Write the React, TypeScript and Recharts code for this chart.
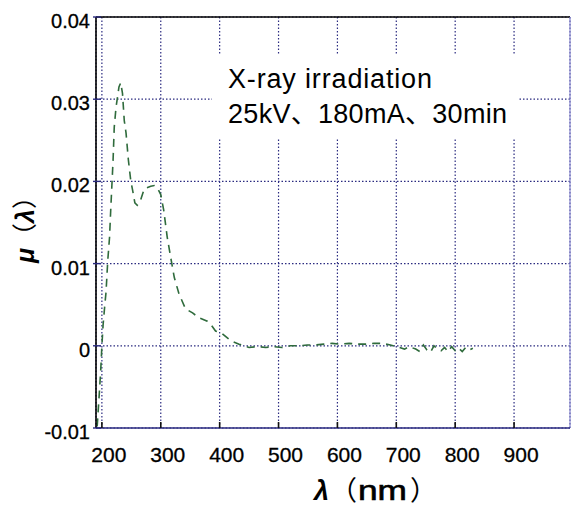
import React from 'react';
import {
  LineChart,
  Line,
  XAxis,
  YAxis,
  CartesianGrid,
  ReferenceArea,
  ReferenceLine,
  Customized,
} from 'recharts';

const wavelengths = [
  192, 195, 198, 200, 202, 205, 207, 210, 213, 215, 219, 221, 224, 229, 232, 235, 238, 241, 245, 249,
  252, 256, 260, 266, 272, 283, 289, 295, 300, 305, 311, 317, 323, 331, 342, 354, 365, 379, 385, 393,
  404, 419, 433, 450, 465, 478, 492, 506, 520, 535, 549, 563, 577, 591, 605, 620, 634, 648, 662, 676,
  690, 705, 714, 722, 733, 740, 746, 752, 758, 764, 770, 776, 782, 788, 794, 800, 806, 812, 818, 824, 830,
];
const muValues = [
  -0.0098, -0.0065, -0.003, 0.0, 0.0025, 0.005, 0.0065, 0.0104, 0.0132, 0.0165, 0.0226, 0.0266, 0.029, 0.0315, 0.032, 0.0307, 0.0274, 0.0259, 0.0226, 0.0201,
  0.019, 0.0174, 0.0171, 0.0178, 0.0191, 0.0194, 0.0195, 0.0191, 0.0184, 0.0165, 0.0132, 0.0107, 0.0083, 0.0063, 0.0045, 0.004, 0.0034, 0.003, 0.0026, 0.0018,
  0.0015, 0.0006, 0.0002, -0.0002, -0.0001, -0.0002, -0.0001, -0.0002, 0.0, 0.0, 0.0001, 0.0001, 0.0002, 0.0003, 0.0002, 0.0003, 0.0002, 0.0002, 0.0003, 0.0003,
  0.0001, -0.0002, -0.0004, -0.0001, -0.0004, -0.0007, 0.0001, -0.0005, -0.0008, 0.0, -0.0004, -0.0006, -0.0002, -0.0007, -0.0001, -0.0006, -0.0003, -0.0007, -0.0002, -0.0005, -0.0003,
];

const xTicks = [200, 300, 400, 500, 600, 700, 800, 900];
const yTicks = [-0.01, 0, 0.01, 0.02, 0.03, 0.04];
const yTickLabels = ['-0.01', '0', '0.01', '0.02', '0.03', '0.04'];
const annotationLines = ['X-ray irradiation', '25kV、180mA、30min'];
const xTitleSymbol = 'λ';
const xTitleUnit = 'nm';
const yTitleSymbol = 'μ';
const yTitleArg = 'λ';

const data = wavelengths.map((w, i) => ({ w, mu: muValues[i] }));

const FONT = '"Liberation Sans", Arial, "Noto Sans CJK JP", sans-serif';
const CJK = '"Noto Sans CJK JP", sans-serif';
const NAVY = '#2b2b80';

const XTick = (props: any) => {
  const { x, y, payload } = props;
  return (
    <g>
      <line x1={x} y1={y} x2={x} y2={y - 6} stroke="#111" strokeWidth={1.6} />
      <text x={x + 7} y={y + 34} textAnchor="middle" fontFamily={FONT} fontSize={21} fill="#000" stroke="#000" strokeWidth={0.3}>
        {String(payload.value)}
      </text>
    </g>
  );
};

const YTick = (props: any) => {
  const { x, y, payload } = props;
  const idx = yTicks.indexOf(payload.value);
  const label = idx >= 0 ? yTickLabels[idx] : String(payload.value);
  return (
    <g>
      <line x1={x - 3} y1={y} x2={x + 5} y2={y} stroke={NAVY} strokeWidth={1.4} />
      <text x={x - 6} y={y + 11} textAnchor="end" fontFamily={FONT} fontSize={20} fill="#000" stroke="#000" strokeWidth={0.3}>
        {label}
      </text>
    </g>
  );
};

const AnnotationBox = (props: any) => {
  const { x, y, width, height } = props;
  return (
    <g>
      <rect x={x} y={y} width={width} height={height} fill="#fff" />
      <text x={228} y={88} fontFamily={FONT} fontSize={27} fill="#000" textLength={204} lengthAdjust="spacing">
        {annotationLines[0]}
      </text>
      <text x={228} y={123} fontFamily={FONT} fontSize={27} fill="#000" textLength={279} lengthAdjust="spacing">
        {annotationLines[1]}
      </text>
    </g>
  );
};

const Titles = () => (
  <g>
    <text x={314} y={500} fontFamily={FONT} fontSize={27} fill="#000">
      <tspan x={314} fontStyle="italic" fontWeight="bold">{xTitleSymbol}</tspan>
    </text>
    <text x={330} y={500} fontFamily={CJK} fontSize={27} fill="#000">
      {'\uff08'}
    </text>
    <text x={358} y={500} fontFamily={FONT} fontSize={27} fill="#000" stroke="#000" strokeWidth={0.6} textLength={49} lengthAdjust="spacingAndGlyphs">
      {xTitleUnit}
    </text>
    <text x={410} y={500} fontFamily={CJK} fontSize={27} fill="#000">
      {'\uff09'}
    </text>
    <text x={34} y={263} fontFamily={FONT} fontSize={25} fill="#000" transform="rotate(-90, 34, 263)">
      <tspan fontStyle="italic" fontWeight="bold">{yTitleSymbol}</tspan>
      <tspan fontFamily={CJK}>{'\uff08'}</tspan>
      <tspan fontStyle="italic" fontWeight="bold">{yTitleArg}</tspan>
      <tspan fontFamily={CJK}>{'\uff09'}</tspan>
    </text>
  </g>
);

export default function App() {
  return (
    <div style={{ position: 'absolute', left: 0, top: 0, width: 571, height: 510, background: '#fff' }}>
      <LineChart width={571} height={510} data={data} margin={{ top: 17, right: 1, left: 0, bottom: 0 }}>
        <CartesianGrid stroke={NAVY} strokeDasharray="1.5 2" strokeWidth={1.2} />
        <XAxis
          dataKey="w"
          type="number"
          domain={[190, 995]}
          ticks={xTicks}
          allowDataOverflow
          height={82}
          tickSize={0}
          tickMargin={0}
          tickLine={false}
          axisLine={{ stroke: NAVY, strokeWidth: 1.6 }}
          tick={<XTick />}
          interval={0}
        />
        <YAxis
          type="number"
          domain={[-0.01, 0.04]}
          ticks={yTicks}
          allowDataOverflow
          width={96}
          tickSize={0}
          tickMargin={0}
          tickLine={false}
          axisLine={{ stroke: '#000', strokeWidth: 1.6 }}
          tick={<YTick />}
          interval={0}
        />
        <ReferenceLine y={0.04} stroke="#000" strokeWidth={1.6} />
        <ReferenceLine x={995} stroke="#8c8cd0" strokeWidth={1.2} />
        <ReferenceArea
          x1={387}
          x2={907}
          y1={0.0252}
          y2={0.0354}
          fill="#fff"
          fillOpacity={1}
          stroke="none"
          shape={<AnnotationBox />}
        />
        <Line
          dataKey="mu"
          type="linear"
          stroke="#2f6b3c"
          strokeWidth={1.6}
          strokeDasharray="8 6"
          dot={false}
          isAnimationActive={false}
        />
        <Customized component={Titles} />
      </LineChart>
    </div>
  );
}
